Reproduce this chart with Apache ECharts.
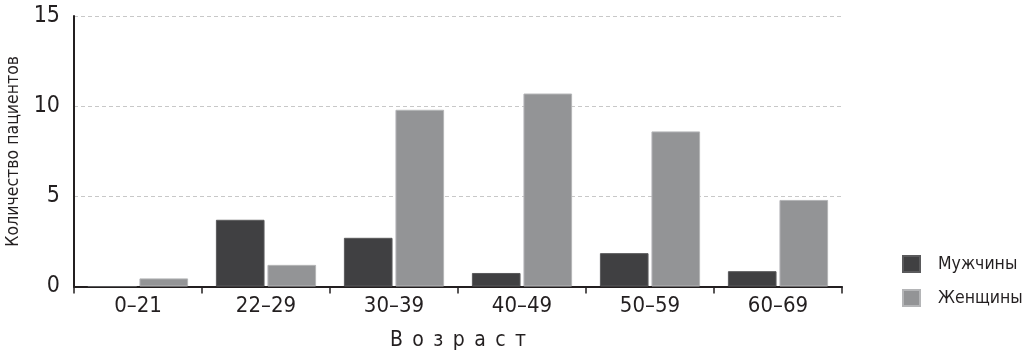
<!DOCTYPE html>
<html>
<head>
<meta charset="utf-8">
<script src="https://cdn.jsdelivr.net/npm/echarts@6/dist/echarts.min.js"></script>
<style>
html,body{margin:0;padding:0;background:#fff;}
#chart{width:1024px;height:354px;}
</style>
</head>
<body>
<div id="chart"></div>
<script>
const categories = ['0–21', '22–29', '30–39', '40–49', '50–59', '60–69'];
const men = [0, 3.7, 2.7, 0.75, 1.85, 0.85];
const women = [0.45, 1.2, 9.8, 10.7, 8.6, 4.8];
const seriesNames = ['Мужчины', 'Женщины'];
const xTitle = 'В\u2002о\u2002з\u2002р\u2002а\u2002с\u2002т';
const yTitle = 'Количество пациентов';

const FONT = "'Liberation Sans Narrow', 'DejaVu Sans Condensed', 'Roboto', sans-serif";
const TEXT = '#231f20';

const chart = echarts.init(document.getElementById('chart'));
chart.setOption({
  animation: false,
  textStyle: { fontFamily: FONT, color: TEXT },
  grid: { left: 74, right: 182, top: 16, bottom: 67.5, outerBoundsMode: 'none', containLabel: false },
  legend: {
    orient: 'vertical',
    left: 897,
    top: 250,
    itemWidth: 17,
    itemHeight: 16,
    itemGap: 16,
    icon: 'rect',
    textStyle: { fontFamily: FONT, fontSize: 17.5, color: TEXT, padding: [0, 0, 0, 13] },
    data: seriesNames
  },
  xAxis: {
    type: 'category',
    data: categories,
    name: xTitle,
    nameLocation: 'middle',
    nameGap: 44,
    nameTextStyle: { fontFamily: FONT, fontSize: 21, color: TEXT },
    axisLine: { lineStyle: { color: '#231f20', width: 2 } },
    axisTick: { show: true, length: 7, lineStyle: { color: '#231f20', width: 1.5 } },
    axisLabel: { fontFamily: FONT, fontSize: 22, color: TEXT, margin: 9 }
  },
  yAxis: {
    type: 'value',
    min: 0,
    max: 15,
    interval: 5,
    name: yTitle,
    nameLocation: 'middle',
    nameGap: 44,
    nameTextStyle: { fontFamily: FONT, fontSize: 17.5, color: TEXT },
    axisLine: { show: true, lineStyle: { color: '#231f20', width: 2 } },
    axisTick: { show: false },
    axisLabel: { fontFamily: FONT, fontSize: 23, color: TEXT, margin: 14 },
    splitLine: { lineStyle: { color: '#c8c8c8', type: [4, 3], width: 1 } }
  },
  series: [
    {
      name: seriesNames[0],
      type: 'bar',
      data: men,
      barWidth: '38%',
      barGap: '6%',
      itemStyle: { color: '#404042', borderColor: '#5a5a5c', borderWidth: 1 }
    },
    {
      name: seriesNames[1],
      type: 'bar',
      data: women,
      barWidth: '38%',
      itemStyle: { color: '#939496', borderColor: '#b4b5b7', borderWidth: 1 }
    }
  ]
});
</script>
</body>
</html>
